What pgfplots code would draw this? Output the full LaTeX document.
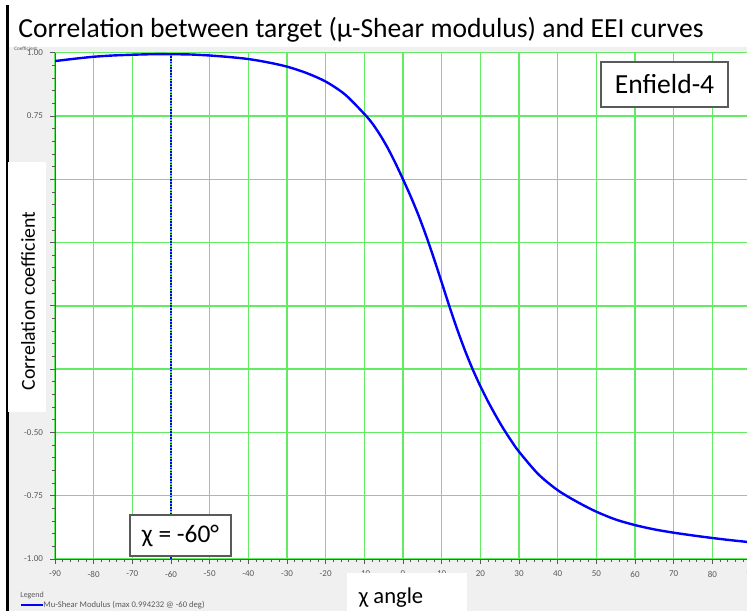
\documentclass[border=0pt]{standalone}
\usepackage{fontspec}
\setmainfont{Carlito}
\usepackage{pgfplots}
\pgfplotsset{compat=1.18}
\definecolor{gridgreen}{RGB}{100,235,100}
\definecolor{panelgray}{RGB}{240,240,240}
\definecolor{axgray}{RGB}{90,90,90}

\begin{document}
\begin{tikzpicture}[x=0.5pt,y=-0.5pt]
\path[use as bounding box] (0,0) rectangle (747,611);
\clip (0,0) rectangle (747,611);
\fill[white] (0,0) rectangle (747,611);
\fill[panelgray] (9,47) rectangle (747,611);
\fill[black] (6,5) rectangle (9,611);
\node[anchor=base west, inner sep=0pt, font=\fontsize{13.8}{16}\selectfont] at (18,37)
  {Correlation between target (µ-Shear modulus) and EEI curves};
\node[anchor=base west, inner sep=0pt, font=\fontsize{2.6}{3}\selectfont, text=axgray] at (14,50) {Coefficient};
\coordinate (ax) at (55,559);
\begin{axis}[
  at={(ax)}, anchor=south west, scale only axis,
  width=348pt, height=253.15pt,
  xmin=-90, xmax=90, ymin=-1, ymax=1,
  axis background/.style={fill=white},
  xtick distance=10, ytick distance=0.25,
  minor x tick num=4, minor y tick num=4,
  grid=major, major grid style={gridgreen, line width=0.7pt},
  axis x line=bottom, axis y line=left,
  axis line style={axgray, -, line width=0.5pt},
  tick align=outside, major tick length=2.5pt, minor tick length=1.5pt,
  tick style={axgray, line width=0.4pt},
  xticklabel style={font=\fontsize{4.5}{5}\selectfont, text=axgray},
  yticklabel style={font=\fontsize{4.5}{5}\selectfont, text=axgray,
    /pgf/number format/.cd, fixed, fixed zerofill, precision=2},
  /pgf/number format/assume math mode=true,
]
\addplot[blue, dash pattern=on 0.8pt off 0.6pt, line width=0.7pt] coordinates {(-60,-1) (-60,1)};
\addplot[blue, line width=1.2pt, smooth] coordinates {
  (-90,0.967) (-85,0.976) (-80,0.984) (-75,0.989) (-70,0.992) (-65,0.994)
  (-60,0.994) (-55,0.993) (-50,0.989) (-45,0.983) (-40,0.975) (-35,0.962)
  (-30,0.945) (-25,0.920) (-20,0.886) (-15,0.835) (-10,0.758) (-8,0.722)
  (-6,0.677) (-4,0.625) (-2,0.565) (0,0.50) (2,0.432) (4,0.358) (6,0.276)
  (8,0.187) (10,0.093) (12,-0.002) (14,-0.092) (16,-0.175) (18,-0.250)
  (20,-0.317) (22,-0.378) (24,-0.434) (26,-0.486) (28,-0.533) (30,-0.576)
  (35,-0.665) (40,-0.728) (45,-0.774) (50,-0.813) (55,-0.844) (60,-0.866)
  (65,-0.883) (70,-0.896) (75,-0.907) (80,-0.917) (85,-0.926) (90,-0.934)};
\end{axis}
% legend strip
\node[anchor=west, inner sep=0pt, font=\fontsize{4}{5}\selectfont, text=axgray] at (20,595) {Legend};
\draw[blue, line width=1pt] (21,605) -- (43,605);
\node[anchor=west, inner sep=0pt, font=\fontsize{4.3}{5}\selectfont, text=axgray] at (43,605)
  {Mu-Shear Modulus (max 0.994232 @ -60 deg)};
% overlays
\fill[white] (8,162) rectangle (46,412);
\node[rotate=90, inner sep=0pt, font=\fontsize{9.9}{12}\selectfont] at (28,301) {Correlation coefficient};
\fill[white] (347,573) rectangle (467,611);
\node[anchor=base, inner sep=0pt, font=\fontsize{11.3}{13}\selectfont] at (391,603) {χ angle};
\draw[axgray, line width=0.6pt, fill=white] (130,515) rectangle (231,556);
\node[inner sep=0pt, font=\fontsize{12.7}{15}\selectfont] at (180.5,535.5) {χ = -60°};
\draw[axgray, line width=0.6pt, fill=white] (601,62) rectangle (728,107);
\node[inner sep=0pt, font=\fontsize{13.8}{16}\selectfont] at (664.5,84.5) {Enfield-4};
\end{tikzpicture}
\end{document}
